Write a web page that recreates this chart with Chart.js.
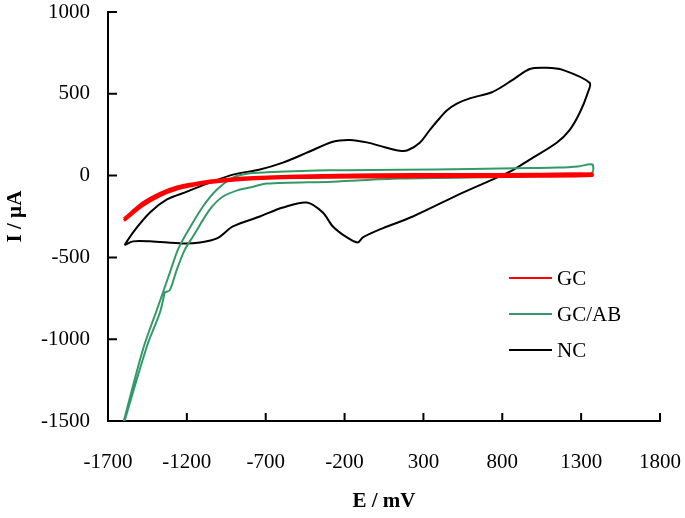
<!DOCTYPE html>
<html>
<head>
<meta charset="utf-8">
<script src="https://cdn.jsdelivr.net/npm/chart.js@4.4.0/dist/chart.umd.min.js"></script>
<style>
    html, body { margin: 0; padding: 0; background: #fff; }
    #wrap { width: 685px; height: 518px; }
</style>
</head>
<body>
<div id="wrap"><canvas id="cvChart" width="685" height="518"></canvas></div>
<script>
// tick labels
const xTicks = [-1700, -1200, -700, -200, 300, 800, 1300, 1800];
const yTicks = [-1500, -1000, -500, 0, 500, 1000];

// GC (red) - forward then reverse scan
const gcE = [-1599, -1478, -1370, -1263, -1161, -1054, -845, -500, 0, 500, 1000, 1370,
             1370, 1000, 500, 0, -500, -845, -1054, -1161, -1263, -1370, -1478, -1599];
const gcI = [-265, -166, -108, -70, -50, -33, -14, -2, 5, 7, 8, 10,
             0, -4, -6, -8, -12, -24, -42, -60, -82, -122, -182, -275];

// GC/AB (green)
const gcabE = [-1600, -1478, -1389, -1307, -1256, -1199, -1098, -1009, -908, -819, -692, -293, 150, 600, 974, 1150, 1280, 1370,
               1370, 1272, 974, 150, -274, -692, -800, -863, -971, -1054, -1161, -1212, -1263, -1308, -1339, -1345, -1370, -1453, -1595];
const gcabI = [-1500, -1061, -817, -591, -451, -348, -189, -85, -12, 12, 20, 32, 35, 40, 46, 49, 56, 68,
               18, 6, -6, -18, -37, -49, -73, -85, -128, -207, -372, -451, -573, -700, -715, -735, -835, -1043, -1500];

// NC (black)
const ncE = [-1595, -1542, -1434, -1326, -1199, -1054, -908, -737, -591, -439, -274, -166, -59, 60, 150, 200, 277, 341, 404, 448, 512, 594, 740, 866, 974, 1082, 1183, 1354,
             1342, 1291, 1228, 1145, 974, 848, 550, 233, 24, -84, -116, -185, -274, -338, -439, -591, -737, -908, -1009, -1117, -1225, -1434, -1542, -1595];
const ncI = [-425, -348, -226, -146, -98, -43, 6, 37, 79, 140, 207, 218, 203, 172, 152, 155, 201, 280, 352, 398, 440, 472, 512, 585, 652, 659, 646, 567,
             506, 384, 280, 201, 98, 24, -104, -250, -329, -378, -409, -378, -311, -226, -165, -195, -250, -311, -384, -409, -415, -402, -402, -425];

function pts(xs, ys) {
    return xs.map((x, i) => ({ x: x, y: ys[i] }));
}

const serif = "'Liberation Serif', 'Times New Roman', serif";

// draws the small inward tick marks
const innerTicks = {
    id: 'innerTicks',
    afterDraw(chart) {
        const ctx = chart.ctx;
        const xs = chart.scales.x, ys = chart.scales.y;
        ctx.save();
        ctx.strokeStyle = '#000';
        ctx.lineWidth = 2;
        ctx.beginPath();
        xs.ticks.forEach((t, i) => {
            const px = xs.getPixelForTick(i);
            ctx.moveTo(px, xs.top);
            ctx.lineTo(px, xs.top - 8);
        });
        ys.ticks.forEach((t, i) => {
            const py = ys.getPixelForTick(i);
            ctx.moveTo(ys.right, py);
            ctx.lineTo(ys.right + 9, py);
        });
        ctx.stroke();
        ctx.restore();
    }
};

// legend inside the plot, lower right
const boxLegend = {
    id: 'boxLegend',
    afterDraw(chart) {
        const ctx = chart.ctx;
        ctx.save();
        ctx.font = '21px ' + serif;
        ctx.textBaseline = 'middle';
        ctx.fillStyle = '#000';
        chart.data.datasets.forEach((ds, i) => {
            const y = 278 + i * 36;
            ctx.strokeStyle = ds.borderColor;
            ctx.lineWidth = 2;
            ctx.beginPath();
            ctx.moveTo(509, y);
            ctx.lineTo(552, y);
            ctx.stroke();
            ctx.fillText(ds.label, 557, y + 1);
        });
        ctx.restore();
    }
};

new Chart(document.getElementById('cvChart'), {
    type: 'scatter',
    data: {
        datasets: [
            {
                label: 'GC',
                data: pts(gcE, gcI),
                borderColor: '#ff0000',
                borderWidth: 3,
                showLine: true,
                pointRadius: 0,
                tension: 0.3
            },
            {
                label: 'GC/AB',
                data: pts(gcabE, gcabI),
                borderColor: '#339966',
                borderWidth: 2,
                showLine: true,
                pointRadius: 0,
                tension: 0.3
            },
            {
                label: 'NC',
                data: pts(ncE, ncI),
                borderColor: '#000000',
                borderWidth: 2,
                showLine: true,
                pointRadius: 0,
                tension: 0.3
            }
        ]
    },
    options: {
        responsive: false,
        animation: false,
        events: [],
        layout: {
            padding: { top: 12, right: 25, bottom: 0, left: 0 }
        },
        plugins: {
            legend: { display: false },
            tooltip: { enabled: false }
        },
        scales: {
            x: {
                type: 'linear',
                min: -1700,
                max: 1800,
                afterBuildTicks: s => { s.ticks = xTicks.map(v => ({ value: v })); },
                afterFit: s => { s.height = 97; s.paddingLeft = 0; s.paddingRight = 0; },
                grid: { display: false },
                border: { display: true, color: '#000', width: 2 },
                ticks: {
                    color: '#000',
                    padding: 21,
                    maxRotation: 0,
                    font: { family: serif, size: 21 },
                    callback: v => String(v)
                },
                title: {
                    display: true,
                    text: 'E / mV',
                    color: '#000',
                    padding: { top: 0, bottom: 4 },
                    font: { family: serif, size: 21, weight: 'bold' }
                }
            },
            y: {
                type: 'linear',
                min: -1500,
                max: 1000,
                afterBuildTicks: s => { s.ticks = yTicks.map(v => ({ value: v })); },
                afterFit: s => { s.width = 108; s.paddingTop = 0; s.paddingBottom = 0; },
                grid: { display: false },
                border: { display: true, color: '#000', width: 2 },
                ticks: {
                    color: '#000',
                    padding: 10,
                    font: { family: serif, size: 21 },
                    callback: v => String(v)
                },
                title: {
                    display: true,
                    text: 'I / µA',
                    color: '#000',
                    padding: { top: 3, bottom: 0 },
                    font: { family: serif, size: 21, weight: 'bold' }
                }
            }
        }
    },
    plugins: [innerTicks, boxLegend]
});
</script>
</body>
</html>
